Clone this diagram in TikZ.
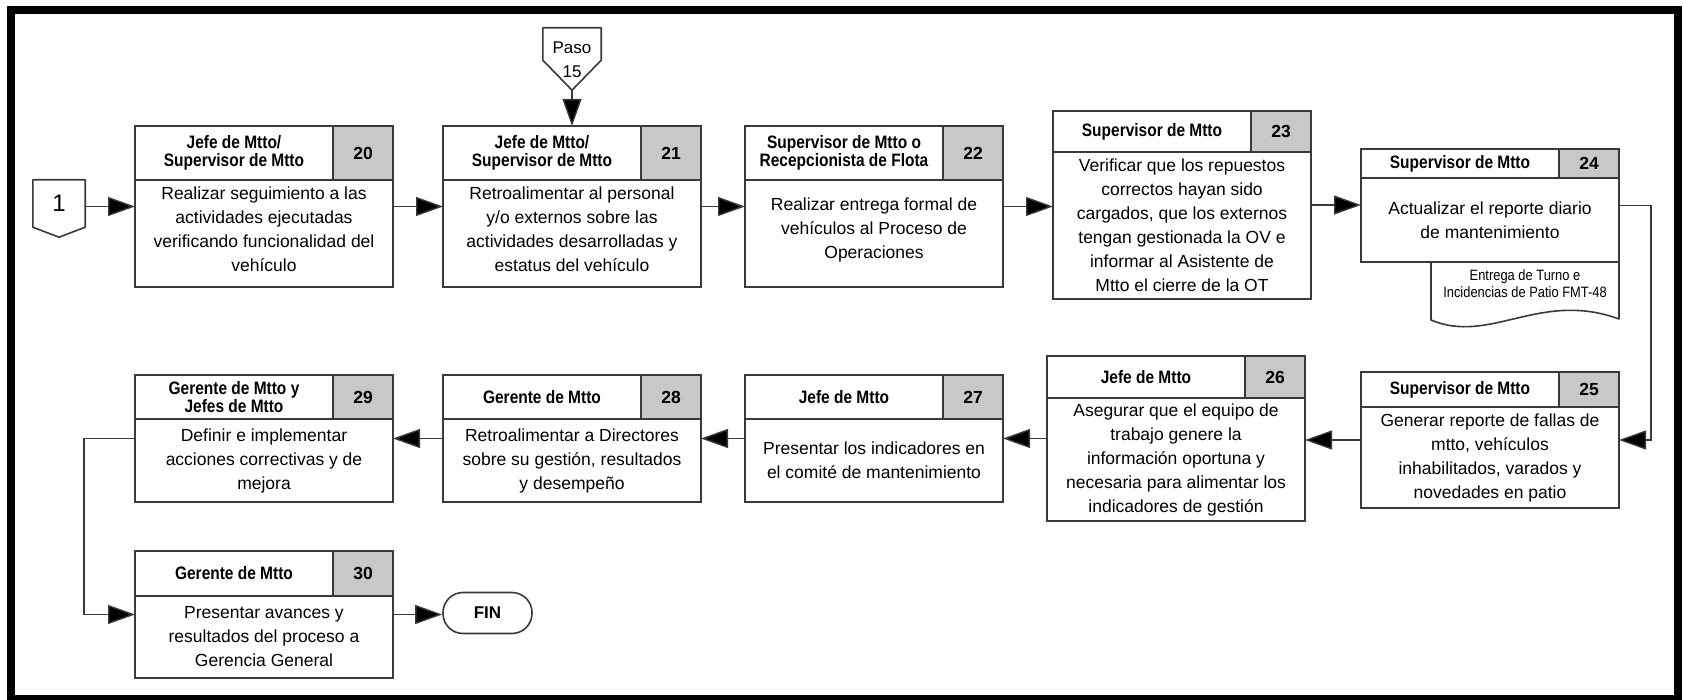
\documentclass[tikz,border=0pt]{standalone}
\usepackage{fontspec}
\setmainfont{Liberation Sans}
\newfontfamily\narrowfont[FakeStretch=0.86]{Liberation Sans}
\usetikzlibrary{arrows.meta,fit,calc}

\definecolor{edge}{HTML}{3A3A3A}
\definecolor{numfill}{HTML}{C8C8C8}

\tikzset{
  boxframe/.style={draw=edge, line width=1.6pt, fill=white, inner sep=0pt, outer sep=0pt},
  numcell/.style={draw=edge, line width=1.6pt, fill=numfill, inner sep=0pt, outer sep=0pt},
  divider/.style={draw=edge, line width=1.6pt},
  shapeline/.style={draw=edge, line width=1.6pt, fill=white, line join=round},
  roletext/.style={font=\narrowfont\bfseries\fontsize{18}{17.5}\selectfont, align=center, inner sep=0pt},
  numtext/.style={font=\bfseries\fontsize{17.5}{20}\selectfont, inner sep=0pt},
  bodytext/.style={font=\fontsize{17.5}{24}\selectfont, align=center, inner sep=0pt},
  bodyshift/.style={},
  doctext/.style={font=\narrowfont\fontsize{15}{17}\selectfont, align=center, inner sep=0pt},
  flow/.style={draw=edge, line width=1.4pt, -{Triangle[length=27pt,width=19pt,fill=black]}},
  frameline/.style={draw=black, line width=8pt},
}

% #1 name, #2 left, #3 top, #4 right, #5 bottom, #6 header bottom,
% #7 role, #8 step number, #9 activity
\newcommand\procbox[9]{%
  \node[boxframe, fit={(#2,#3) (#4,#5)}] (#1) {};
  \node[numcell, fit={({#4-60},#3) (#4,#6)}] (#1n) {};
  \draw[divider] (#2,#6) -- (#4,#6);
  \node[numtext] (#1num) at (#1n.center) {#8};
  \node[roletext] (#1r) at ({(#2+#4-60)/2},{(#3+#6)/2}) {#7};
  \node[bodytext, bodyshift] (#1b) at ({(#2+#4)/2},{(#6+#5)/2}) {#9};
}

\begin{document}
\begin{tikzpicture}[x=1pt,y=-1pt]
\useasboundingbox (0,0) rectangle (1683,700);
\fill[white] (0,0) rectangle (1683,700);
\draw[frameline] (11,10) rectangle (1677.5,699);

% upper row
\begin{scope}[bodyshift/.style={yshift=4pt}]
\procbox{b20}{135}{126}{393}{287}{180}{Jefe de Mtto/\\Supervisor de Mtto}{20}
  {Realizar seguimiento a las\\actividades ejecutadas\\verificando funcionalidad del\\vehículo}
\procbox{b21}{443}{126}{701}{287}{180}{Jefe de Mtto/\\Supervisor de Mtto}{21}
  {Retroalimentar al personal\\y/o externos sobre las\\actividades desarrolladas y\\estatus del vehículo}
\procbox{b22}{745}{126}{1003}{287}{180}{Supervisor de Mtto o\\Recepcionista de Flota}{22}
  {Realizar entrega formal de\\vehículos al Proceso de\\Operaciones}
\end{scope}
\procbox{b23}{1053}{111}{1311}{299}{152}{Supervisor de Mtto}{23}
  {Verificar que los repuestos\\correctos hayan sido\\cargados, que los externos\\tengan gestionada la OV e\\informar al Asistente de\\Mtto el cierre de la OT}

% document under step 24
\draw[shapeline] (1431,262) -- (1431,320) .. controls (1490,345) and (1540,290) .. (1619,319) -- (1619,262);
\node[doctext] (doc) at (1525,284) {Entrega de Turno e\\Incidencias de Patio FMT-48};

\procbox{b24}{1361}{149}{1619}{262}{178}{Supervisor de Mtto}{24}
  {Actualizar el reporte diario\\de mantenimiento}

% middle row
\procbox{b25}{1361}{372}{1619}{508}{407}{Supervisor de Mtto}{25}
  {Generar reporte de fallas de\\mtto, vehículos\\inhabilitados, varados y\\novedades en patio}
\procbox{b26}{1047}{356}{1305}{521}{398}{Jefe de Mtto}{26}
  {Asegurar que el equipo de\\trabajo genere la\\información oportuna y\\necesaria para alimentar los\\indicadores de gestión}
\procbox{b27}{745}{375}{1003}{502}{419}{Jefe de Mtto}{27}
  {Presentar los indicadores en\\el comité de mantenimiento}
\procbox{b28}{443}{375}{701}{502}{419}{Gerente de Mtto}{28}
  {Retroalimentar a Directores\\sobre su gestión, resultados\\y desempeño}
\procbox{b29}{135}{375}{393}{502}{419}{Gerente de Mtto y\\Jefes de Mtto}{29}
  {Definir e implementar\\acciones correctivas y de\\mejora}

% lower row
\procbox{b30}{135}{551}{393}{678}{596}{Gerente de Mtto}{30}
  {Presentar avances y\\resultados del proceso a\\Gerencia General}
\node[draw=edge, line width=1.6pt, rounded corners=20pt, minimum width=89pt, minimum height=41pt,
      inner sep=0pt, font=\bfseries\fontsize{17}{20}\selectfont] (fin) at (487.5,613) {FIN};

% off-page connectors
\node[minimum width=52pt, minimum height=47pt, inner sep=0pt] (c1) at (59,203.5) {};
\draw[shapeline] (c1.south west) -- (c1.north west) -- (c1.north east) -- (c1.south east)
  -- ($(c1.south)+(0,10)$) -- cycle;
\node[font=\fontsize{24}{26}\selectfont, inner sep=0pt] (c1t) at (c1.center) {1};

\node[minimum width=58pt, minimum height=32pt, inner sep=0pt] (p15) at (572,44) {};
\draw[shapeline] (p15.south west) -- (p15.north west) -- (p15.north east) -- (p15.south east)
  -- ($(p15.south)+(0,30)$) -- cycle;
\coordinate (p15tip) at ($(p15.south)+(0,30)$);
\node[font=\fontsize{17}{24}\selectfont, align=center, inner sep=0pt] (p15t) at (572,60) {Paso\\15};

% flow
\draw[flow] (c1.east |- b20.west) -- (b20.west);
\draw[flow] (b20.east) -- (b21.west |- b20.east);
\draw[flow] (p15tip) -- (b21.north);
\draw[flow] (b21.east) -- (b22.west |- b21.east);
\draw[flow] (b22.east) -- (b23.west |- b22.east);
\draw[flow] (b23.east) -- (b24.west |- b23.east);
\draw[flow] (b24.east) -- ++(32,0) |- (b25.east);
\draw[flow] (b25.west) -- (b26.east |- b25.west);
\draw[flow] (b26.west) -- (b27.east |- b26.west);
\draw[flow] (b27.west) -- (b28.east |- b27.west);
\draw[flow] (b28.west) -- (b29.east |- b28.west);
\draw[flow] (b29.west) -- ++(-51,0) |- (b30.west);
\draw[flow] (b30.east) -- (fin.west |- b30.east);
\end{tikzpicture}
\end{document}
